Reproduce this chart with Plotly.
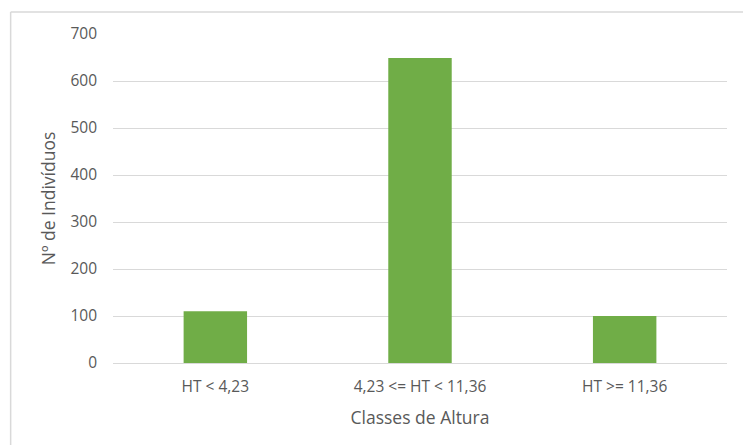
import plotly.graph_objects as go

# Height classes and number of individuals per class
classes = ["HT < 4,23", "4,23 <= HT < 11,36", "HT >= 11,36"]
counts = [110, 649, 100]
y_ticks = [0, 100, 200, 300, 400, 500, 600, 700]

fig = go.Figure(
    go.Bar(
        x=classes,
        y=counts,
        marker=dict(color="#70ad47", line=dict(width=0)),
        width=0.31,
    )
)

grid = "#d9d9d9"
text_col = "#595959"
font_family = "Open Sans, Liberation Sans, sans-serif"

fig.update_layout(
    width=743,
    height=445,
    margin=dict(l=112.5, r=15.5, t=34, b=82),
    paper_bgcolor="white",
    plot_bgcolor="white",
    showlegend=False,
    font=dict(family=font_family, color=text_col, size=15),
    xaxis=dict(
        showgrid=False,
        showline=False,
        ticks="",
        ticklabelstandoff=12,
        tickfont=dict(size=15.5, color=text_col),
        title=dict(text="Classes de Altura", font=dict(size=17.5, color=text_col), standoff=16),
    ),
    yaxis=dict(
        range=[0, 700],
        tickvals=y_ticks,
        showgrid=True,
        gridcolor=grid,
        gridwidth=1,
        zeroline=True,
        zerolinecolor=grid,
        zerolinewidth=1,
        showline=False,
        ticks="",
        ticklabelstandoff=15,
        tickfont=dict(size=15.5, color=text_col),
        title=dict(text="Nº de Indivíduos", font=dict(size=17.5, color=text_col), standoff=10),
    ),
    shapes=[
        # chart frame (left and top edges)
        dict(type="line", xref="paper", yref="paper", x0=-0.1667, x1=-0.1667, y0=-0.4, y1=1.0669,
             line=dict(color=grid, width=1.5)),
        dict(type="line", xref="paper", yref="paper", x0=-0.1667, x1=1.1, y0=1.0669, y1=1.0669,
             line=dict(color=grid, width=1.5)),
    ],
)

fig.write_html("out.html")
